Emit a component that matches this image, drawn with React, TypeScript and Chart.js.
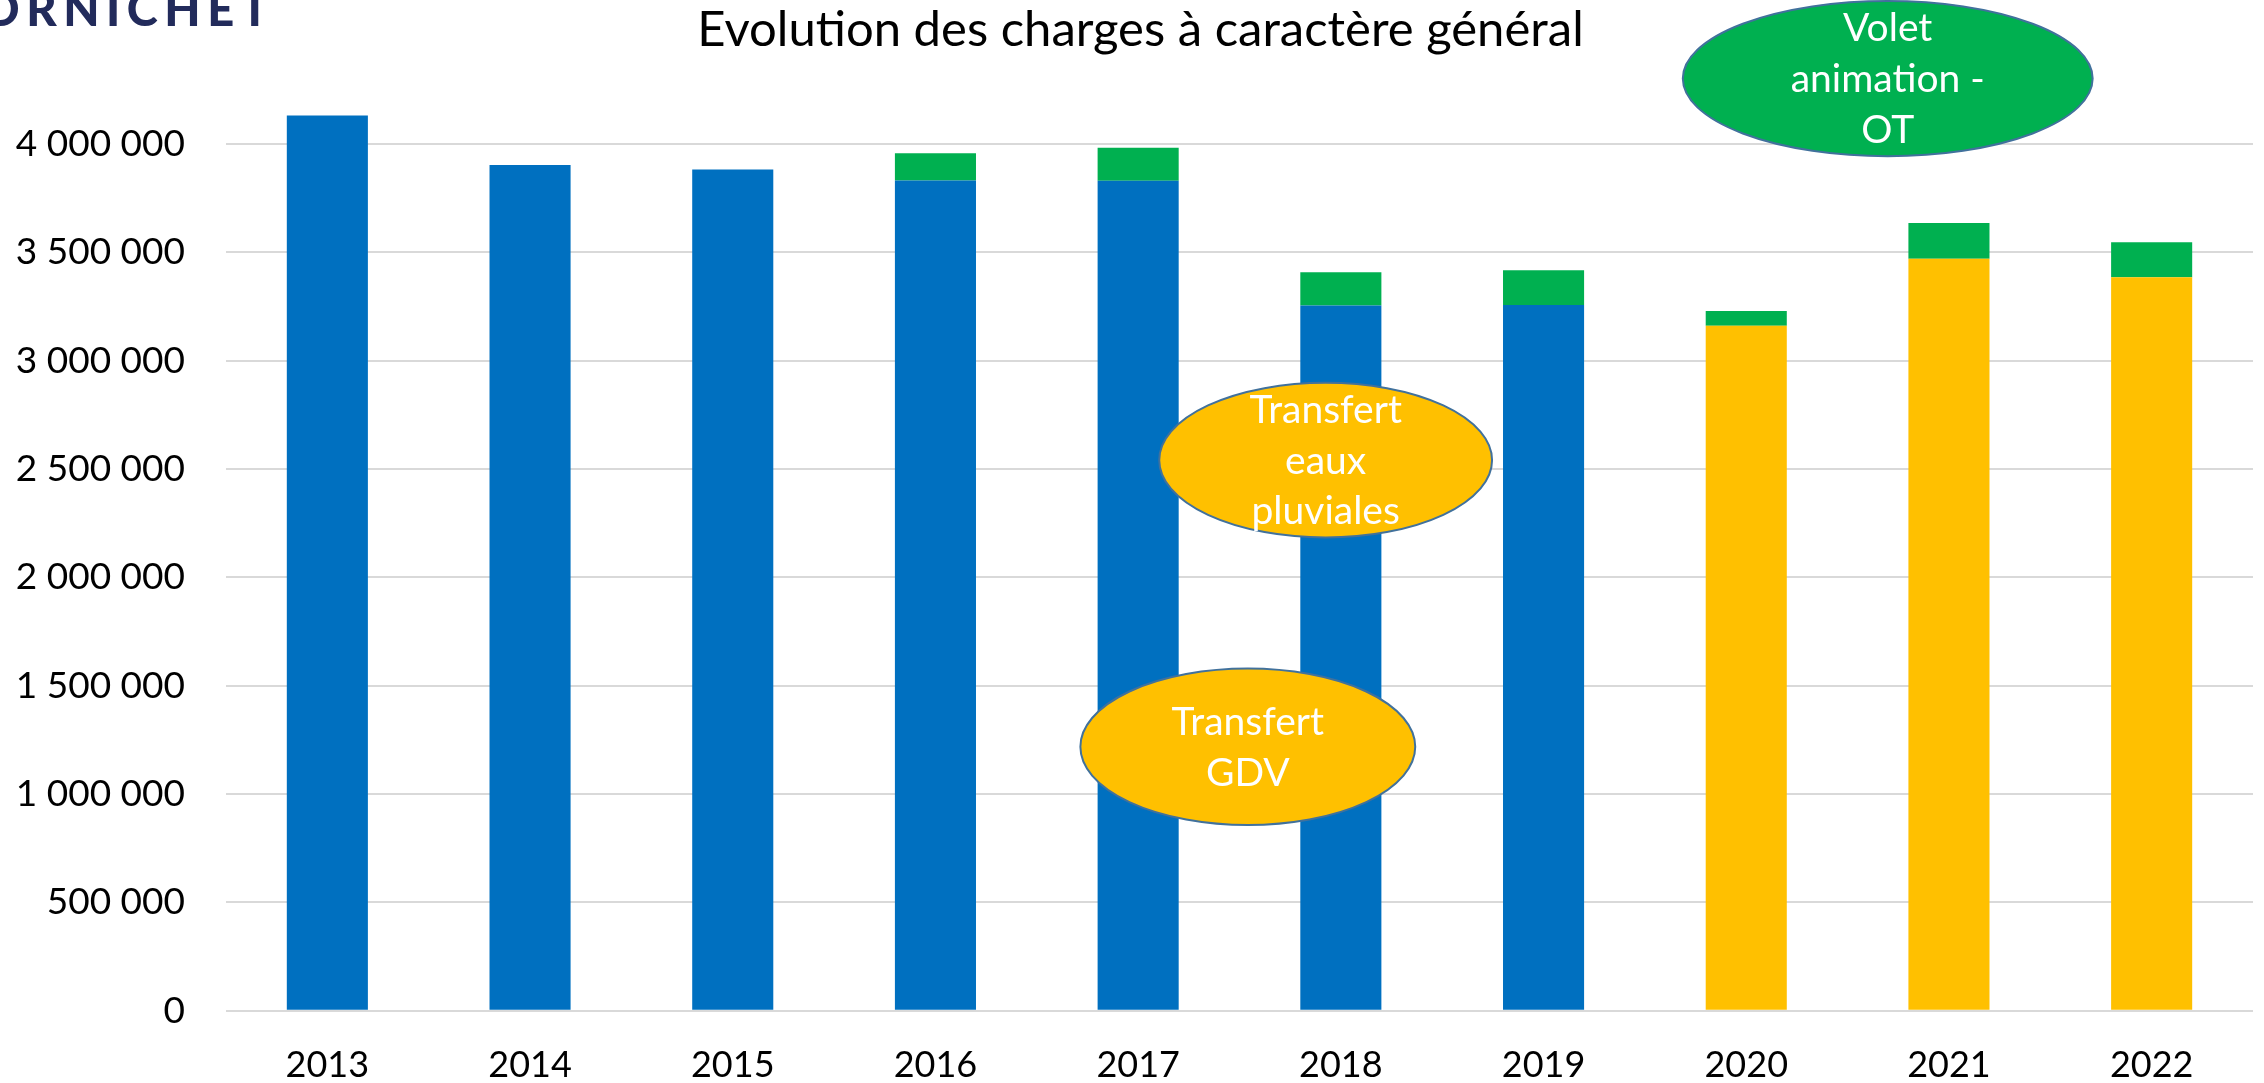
import React, { useEffect, useRef } from "react";
import { Chart, registerables } from "chart.js";

Chart.register(...registerables);

const years = ["2013", "2014", "2015", "2016", "2017", "2018", "2019", "2020", "2021", "2022"];
const blueValues = [4132000, 3903000, 3883000, 3832000, 3830000, 3255000, 3257000, null, null, null];
const yellowValues = [null, null, null, null, null, null, null, 3161000, 3470000, 3385000];
const greenValues = [null, null, null, 125000, 153000, 153000, 161000, 68000, 165000, 162000];

const yTickStep = 500000;
const yMax = 4500000;

const titleText = "Evolution des charges à caractère général";
const logoText = "PORNICHET";

// Annotations anchored on the category / value scales
const annotations = [
  { xIndex: 7.698, yValue: 4302000, rxCat: 1.011, ryVal: 358000, lines: ["Volet", "animation -", "OT"], fill: "#00B050" },
  { xIndex: 4.925, yValue: 2541000, rxCat: 0.821, ryVal: 357000, lines: ["Transfert", "eaux", "pluviales"], fill: "#FFC000" },
  { xIndex: 4.541, yValue: 1218000, rxCat: 0.826, ryVal: 361000, lines: ["Transfert", "GDV"], fill: "#FFC000" },
];

const fmt = (v: number) => String(v).replace(/\B(?=(\d{3})+(?!\d))/g, " ");

const FONT = "Lato, 'Open Sans', sans-serif";

export default function App() {
  const ref = useRef<HTMLCanvasElement | null>(null);
  useEffect(() => {
    if (!ref.current) return;
    const overlay = {
      id: "overlay",
      afterDraw(chart: any) {
        const ctx = chart.ctx as CanvasRenderingContext2D;
        const xs = chart.scales.x;
        const ys = chart.scales.y;
        const step = xs.getPixelForValue(1) - xs.getPixelForValue(0);
        const x0 = xs.getPixelForValue(0);
        const unitY = ys.getPixelForValue(0) - ys.getPixelForValue(1000000);
        ctx.save();
        // title
        ctx.fillStyle = "#000";
        ctx.font = `49px ${FONT}`;
        ctx.textAlign = "center";
        ctx.textBaseline = "alphabetic";
        ctx.fillText(titleText, chart.width / 2 + 8.5, 46);
        // logo
        ctx.fillStyle = "#222B5B";
        ctx.font = `900 47px ${FONT}`;
        (ctx as any).letterSpacing = "6.5px";
        ctx.textAlign = "right";
        ctx.fillText(logoText, 269 + 6.5, 26);
        (ctx as any).letterSpacing = "0px";
        // ellipses
        for (const a of annotations) {
          const cx = x0 + a.xIndex * step;
          const cy = ys.getPixelForValue(a.yValue);
          const rx = a.rxCat * step;
          const ry = (a.ryVal / 1000000) * unitY;
          ctx.beginPath();
          ctx.ellipse(cx, cy, rx, ry, 0, 0, Math.PI * 2);
          ctx.fillStyle = a.fill;
          ctx.fill();
          ctx.lineWidth = 2;
          ctx.strokeStyle = "#41719C";
          ctx.stroke();
          ctx.fillStyle = "#fff";
          ctx.font = `39px ${FONT}`;
          ctx.textAlign = "center";
          const lh = 50.7;
          const n = a.lines.length;
          const firstBase = cy - ((n - 1) * lh) / 2 + 13.5;
          a.lines.forEach((l, i) => ctx.fillText(l, cx, firstBase + i * lh));
        }
        ctx.restore();
      },
    };
    const chart = new Chart(ref.current, {
      type: "bar",
      data: {
        labels: years,
        datasets: [
          { label: "Bleu", data: blueValues as any, backgroundColor: "#0070C0", stack: "s" },
          { label: "Jaune", data: yellowValues as any, backgroundColor: "#FFC000", stack: "s" },
          { label: "Vert", data: greenValues as any, backgroundColor: "#00B050", stack: "s" },
        ],
      },
      options: {
        animation: false,
        responsive: true,
        maintainAspectRatio: false,
        layout: { padding: { top: 35.7, right: 11, left: 0, bottom: 0 } },
        plugins: { legend: { display: false }, tooltip: { enabled: false }, title: { display: false } },
        datasets: { bar: { categoryPercentage: 0.8, barPercentage: 0.5 } },
        scales: {
          x: {
            stacked: true,
            grid: { display: false, drawTicks: false },
            border: { display: false },
            ticks: { color: "#000", font: { family: FONT, size: 36 }, padding: 33, maxRotation: 0 },
            afterFit: (s: any) => { s.height = 72.3; s.paddingLeft = 0; s.paddingRight = 0; },
          },
          y: {
            stacked: true,
            min: 0,
            max: yMax,
            border: { display: false },
            grid: {
              drawTicks: false,
              lineWidth: 2,
              color: (c: any) => (c.tick && c.tick.value === yMax ? "rgba(0,0,0,0)" : "#D9D9D9"),
            },
            ticks: {
              stepSize: yTickStep,
              color: "#000",
              font: { family: FONT, size: 37 },
              padding: 41,
              callback: (v: any) => (v === yMax ? "" : fmt(v)),
            },
            afterFit: (s: any) => { s.width = 226; s.paddingTop = 0; s.paddingBottom = 0; },
          },
        },
      },
      plugins: [overlay],
    });
    return () => chart.destroy();
  }, []);
  return (
    <div style={{ position: "fixed", left: 0, top: 0, width: 2264, height: 1083, background: "#fff" }}>
      <canvas ref={ref} />
    </div>
  );
}
